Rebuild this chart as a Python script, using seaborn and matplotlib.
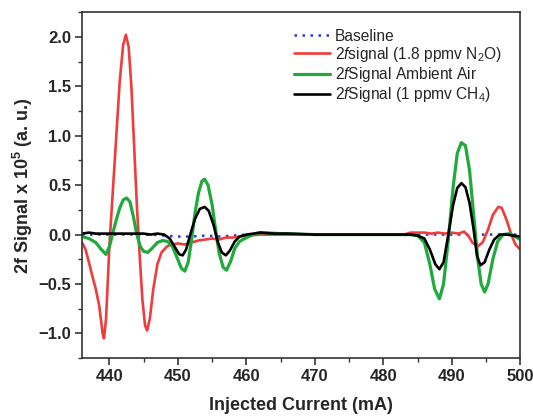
import numpy as np
import pandas as pd
import matplotlib
matplotlib.use("Agg")
import matplotlib.pyplot as plt
import seaborn as sns

# Data (x = injected current mA, y = 2f signal x 1e5)
base_x = [436, 438, 440, 442, 444, 446, 448, 450, 452, 454, 456, 458, 460, 462, 466, 470,
          474, 478, 482, 486, 490, 494, 498, 500]
base_y = [0.0, 0.0, 0.0, 0.0, 0.0, 0.0, -0.01, -0.02, -0.02, -0.01, -0.02, -0.01, 0.0, 0.0,
          0.0, 0.0, 0.0, 0.0, 0.0, 0.0, 0.0, 0.0, 0.0, 0.0]

n2o_x = [436.0, 436.5, 437.0, 437.5, 438.0, 438.5, 439.0, 439.2, 439.5, 440.0, 440.5, 441.0,
         441.5, 442.0, 442.4, 442.8, 443.2, 443.6, 444.0, 444.4, 444.8, 445.2, 445.5, 445.9,
         446.4, 447.0, 447.6, 448.4, 449.0, 450.0, 451.0, 452.0, 453.0, 454.0, 455.0, 456.0,
         457.0, 458.0, 459.0, 460.0, 462.0, 465.0, 470.0, 475.0, 480.0, 483.0, 484.0, 486.0,
         487.0, 488.0, 489.0, 490.0, 491.0, 491.8, 492.5, 493.0, 493.8, 494.5, 495.3, 496.0,
         496.8, 497.3, 498.0, 498.7, 499.3, 500.0]
n2o_y = [-0.08, -0.15, -0.28, -0.42, -0.55, -0.72, -1.00, -1.05, -0.85, -0.10, 0.45, 1.00,
         1.55, 1.92, 2.02, 1.90, 1.50, 0.90, 0.30, -0.20, -0.65, -0.92, -0.97, -0.85,
         -0.55, -0.30, -0.18, -0.12, -0.10, -0.09, -0.10, -0.08, -0.06, -0.05, -0.04, -0.05,
         -0.03, -0.03, -0.02, -0.01, 0.0, 0.0, 0.0, 0.0, 0.0, 0.0, 0.02, 0.02,
         0.01, 0.02, 0.01, 0.02, 0.01, 0.03, -0.02, -0.08, -0.12, -0.08, 0.05, 0.20,
         0.28, 0.27, 0.15, 0.0, -0.10, -0.15]

air_x = [436.0, 437.0, 438.0, 438.8, 439.5, 440.0, 440.5, 441.0, 441.5, 442.0, 442.5, 443.0,
         443.5, 444.0, 444.5, 445.0, 445.6, 446.2, 447.0, 447.8, 448.5, 449.2, 449.8, 450.5,
         451.0, 451.5, 452.0, 452.5, 453.0, 453.5, 453.9, 454.4, 455.0, 455.5, 456.0, 456.6,
         457.1, 457.7, 458.3, 459.0, 460.0, 461.0, 462.0, 465.0, 470.0, 475.0, 480.0, 484.0,
         485.0, 486.0, 486.8, 487.5, 488.2, 488.8, 489.5, 490.2, 490.8, 491.4, 492.0, 492.6,
         493.2, 493.8, 494.3, 494.8, 495.3, 496.0, 496.7, 497.5, 498.5, 499.5, 500.0]
air_y = [-0.02, -0.04, -0.08, -0.15, -0.20, -0.12, 0.02, 0.15, 0.27, 0.35, 0.37, 0.33,
         0.18, 0.0, -0.12, -0.17, -0.18, -0.14, -0.08, -0.06, -0.07, -0.12, -0.22, -0.34,
         -0.37, -0.28, -0.05, 0.22, 0.42, 0.54, 0.56, 0.50, 0.30, 0.05, -0.18, -0.33,
         -0.36, -0.27, -0.14, -0.07, -0.03, 0.0, 0.02, 0.01, 0.0, 0.0, 0.0, 0.0,
         -0.01, -0.08, -0.30, -0.55, -0.65, -0.50, -0.05, 0.48, 0.82, 0.93, 0.90, 0.65,
         0.20, -0.25, -0.50, -0.58, -0.50, -0.25, -0.07, 0.0, 0.01, -0.03, -0.05]

ch4_x = [436.0, 437.0, 438.0, 439.0, 440.0, 441.0, 442.0, 443.0, 444.0, 445.0, 446.0, 447.0,
         448.0, 448.8, 449.5, 450.2, 450.7, 451.2, 451.8, 452.5, 453.2, 453.9, 454.5, 455.2,
         455.8, 456.4, 457.0, 457.6, 458.3, 459.0, 460.0, 461.0, 462.0, 464.0, 466.0, 470.0,
         475.0, 480.0, 484.0, 485.0, 486.0, 486.8, 487.6, 488.2, 488.8, 489.5, 490.2, 490.8,
         491.4, 492.0, 492.6, 493.2, 493.7, 494.2, 494.8, 495.5, 496.2, 497.0, 498.0, 500.0]
ch4_y = [0.01, 0.02, 0.01, 0.01, 0.01, 0.01, 0.01, 0.01, 0.01, 0.01, 0.0, 0.01,
         0.0, -0.04, -0.12, -0.20, -0.21, -0.15, 0.0, 0.16, 0.26, 0.28, 0.24, 0.10,
         -0.07, -0.18, -0.21, -0.16, -0.07, -0.02, 0.0, 0.01, 0.02, 0.01, 0.01, 0.0,
         0.0, 0.0, 0.0, -0.01, -0.04, -0.15, -0.30, -0.35, -0.28, 0.0, 0.30, 0.47,
         0.52, 0.48, 0.32, 0.05, -0.22, -0.31, -0.28, -0.15, -0.05, 0.0, 0.0, -0.02]

labels = ["Baseline",
          r"2$\it{f}$signal (1.8 ppmv N$_2$O)",
          r"2$\it{f}$Signal Ambient Air",
          r"2$\it{f}$Signal (1 ppmv CH$_4$)"]

sns.set_style("ticks")
plt.rcParams['font.family'] = ['Liberation Sans', 'DejaVu Sans']
plt.rcParams['mathtext.fontset'] = 'custom'
plt.rcParams['mathtext.rm'] = 'Liberation Sans'
plt.rcParams['mathtext.it'] = 'Liberation Sans:italic'
plt.rcParams['mathtext.bf'] = 'Liberation Sans:bold'

fig = plt.figure(figsize=(5.33, 4.17), dpi=100)
ax = fig.add_axes([0.154, 0.141, 0.822, 0.830])

sns.lineplot(x=base_x, y=base_y, ax=ax, color='#2b3bc8', lw=1.8, linestyle=(0, (1, 2.2)),
             label=labels[0])
sns.lineplot(x=n2o_x, y=n2o_y, ax=ax, color='#f03c3c', lw=1.9, label=labels[1])
sns.lineplot(x=air_x, y=air_y, ax=ax, color='#1faa3c', lw=2.3, label=labels[2])
sns.lineplot(x=ch4_x, y=ch4_y, ax=ax, color='black', lw=1.9, label=labels[3])

ax.set_xlim(436, 500)
ax.set_ylim(-1.25, 2.25)
ax.set_xticks(np.arange(440, 501, 10))
ax.set_xticks(np.arange(445, 500, 10), minor=True)
ax.set_yticks([-1.0, -0.5, 0.0, 0.5, 1.0, 1.5, 2.0])
ax.set_yticks(np.arange(-1.25, 2.26, 0.25), minor=True)
ax.tick_params(which='major', length=5, width=1.2, color='#333333', pad=3)
ax.tick_params(which='minor', length=3, width=1.0, color='#333333')
for lab in ax.get_xticklabels() + ax.get_yticklabels():
    lab.set_fontweight('bold')
    lab.set_fontsize(12)
for sp in ax.spines.values():
    sp.set_visible(True)
    sp.set_color('#333333')
    sp.set_linewidth(1.2)

ax.set_xlabel("Injected Current (mA)", fontsize=13, fontweight='bold', labelpad=9)
ax.set_ylabel(r"2f Signal x 10$^\mathbf{5}$ (a. u.)", fontsize=13, fontweight='bold', labelpad=2)

leg = ax.legend(loc='upper left', frameon=False, fontsize=11.2, handlelength=2.3,
                handletextpad=0.3, labelspacing=0.08, borderaxespad=0,
                bbox_to_anchor=(0.47, 0.97))

fig.savefig("out.png", dpi=100)
